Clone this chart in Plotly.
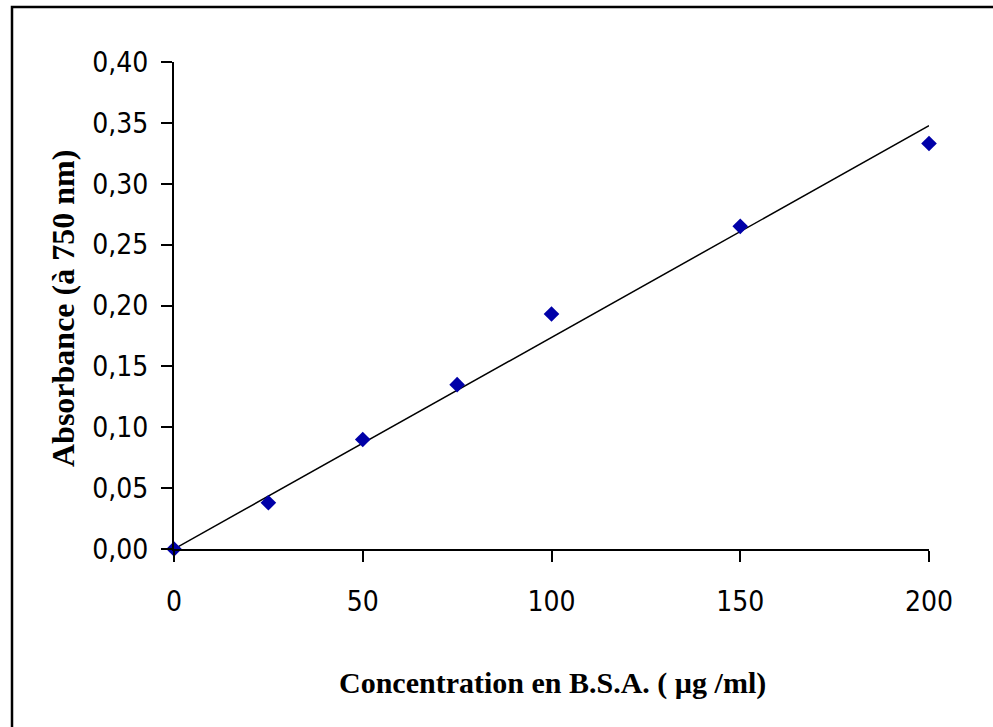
import plotly.graph_objects as go

# Data
concentration = [0, 25, 50, 75, 100, 150, 200]          # µg/ml
absorbance = [0.000, 0.038, 0.090, 0.135, 0.193, 0.265, 0.333]

x_ticks = [0, 50, 100, 150, 200]
y_ticks = [0.00, 0.05, 0.10, 0.15, 0.20, 0.25, 0.30, 0.35, 0.40]
y_tick_text = [f"{v:.2f}".replace(".", ",") for v in y_ticks]

# Linear trend line through the origin (least squares)
sxy = sum(a * b for a, b in zip(concentration, absorbance))
sxx = sum(a * a for a in concentration)
slope = sxy / sxx
trend_x = [0, 200]
trend_y = [slope * v for v in trend_x]

W, H = 993, 727
ML, MR, MT, MB = 174, 64, 62, 178
PW = W - ML - MR
PH = H - MT - MB

def px_to_paper_x(px):
    return (px - ML) / PW

def px_to_paper_y(py):
    return (H - MB - py) / PH

fig = go.Figure()
fig.add_trace(go.Scatter(
    x=trend_x, y=trend_y, mode="lines",
    line=dict(color="black", width=1.5),
    hoverinfo="skip", showlegend=False,
))
fig.add_trace(go.Scatter(
    x=concentration, y=absorbance, mode="markers",
    marker=dict(symbol="diamond", size=12, color="#0000A8"),
    showlegend=False, cliponaxis=False,
))

tick_font = dict(family="DejaVu Sans Condensed, DejaVu Sans, sans-serif",
                 size=28, color="black")
title_family = "Liberation Serif, Times New Roman, serif"

fig.update_xaxes(
    range=[0, 200], tickvals=x_ticks, ticktext=[str(v) for v in x_ticks],
    showgrid=False, zeroline=False, showline=True, linecolor="black", linewidth=2,
    ticks="outside", ticklen=11, tickwidth=2, tickcolor="black",
    tickfont=tick_font, ticklabelstandoff=15,
)
fig.update_yaxes(
    range=[0, 0.40], tickvals=y_ticks, ticktext=y_tick_text,
    showgrid=False, zeroline=False, showline=True, linecolor="black", linewidth=2,
    ticks="outside", ticklen=11, tickwidth=2, tickcolor="black",
    tickfont=tick_font, ticklabelstandoff=7,
)

fig.add_annotation(
    text="<b>Concentration en B.S.A. ( µg /ml)</b>",
    xref="paper", yref="paper",
    x=px_to_paper_x(552), y=px_to_paper_y(683),
    showarrow=False, font=dict(family=title_family, size=30, color="black"),
    xanchor="center", yanchor="middle",
)
fig.add_annotation(
    text="<b>Absorbance (à 750 nm)</b>",
    xref="paper", yref="paper",
    x=px_to_paper_x(63), y=px_to_paper_y(309),
    showarrow=False, font=dict(family=title_family, size=32, color="black"),
    textangle=-90, xanchor="center", yanchor="middle",
)

# Outer chart border (extends past right and bottom edges as in the reference)
fig.add_shape(
    type="rect", xref="paper", yref="paper",
    x0=px_to_paper_x(12), y0=px_to_paper_y(760),
    x1=px_to_paper_x(1030), y1=px_to_paper_y(7),
    line=dict(color="black", width=2.5), fillcolor="rgba(0,0,0,0)", layer="below",
)

fig.update_layout(
    width=W, height=H,
    margin=dict(l=ML, r=MR, t=MT, b=MB),
    paper_bgcolor="white", plot_bgcolor="white",
)

fig.write_html("out.html")
